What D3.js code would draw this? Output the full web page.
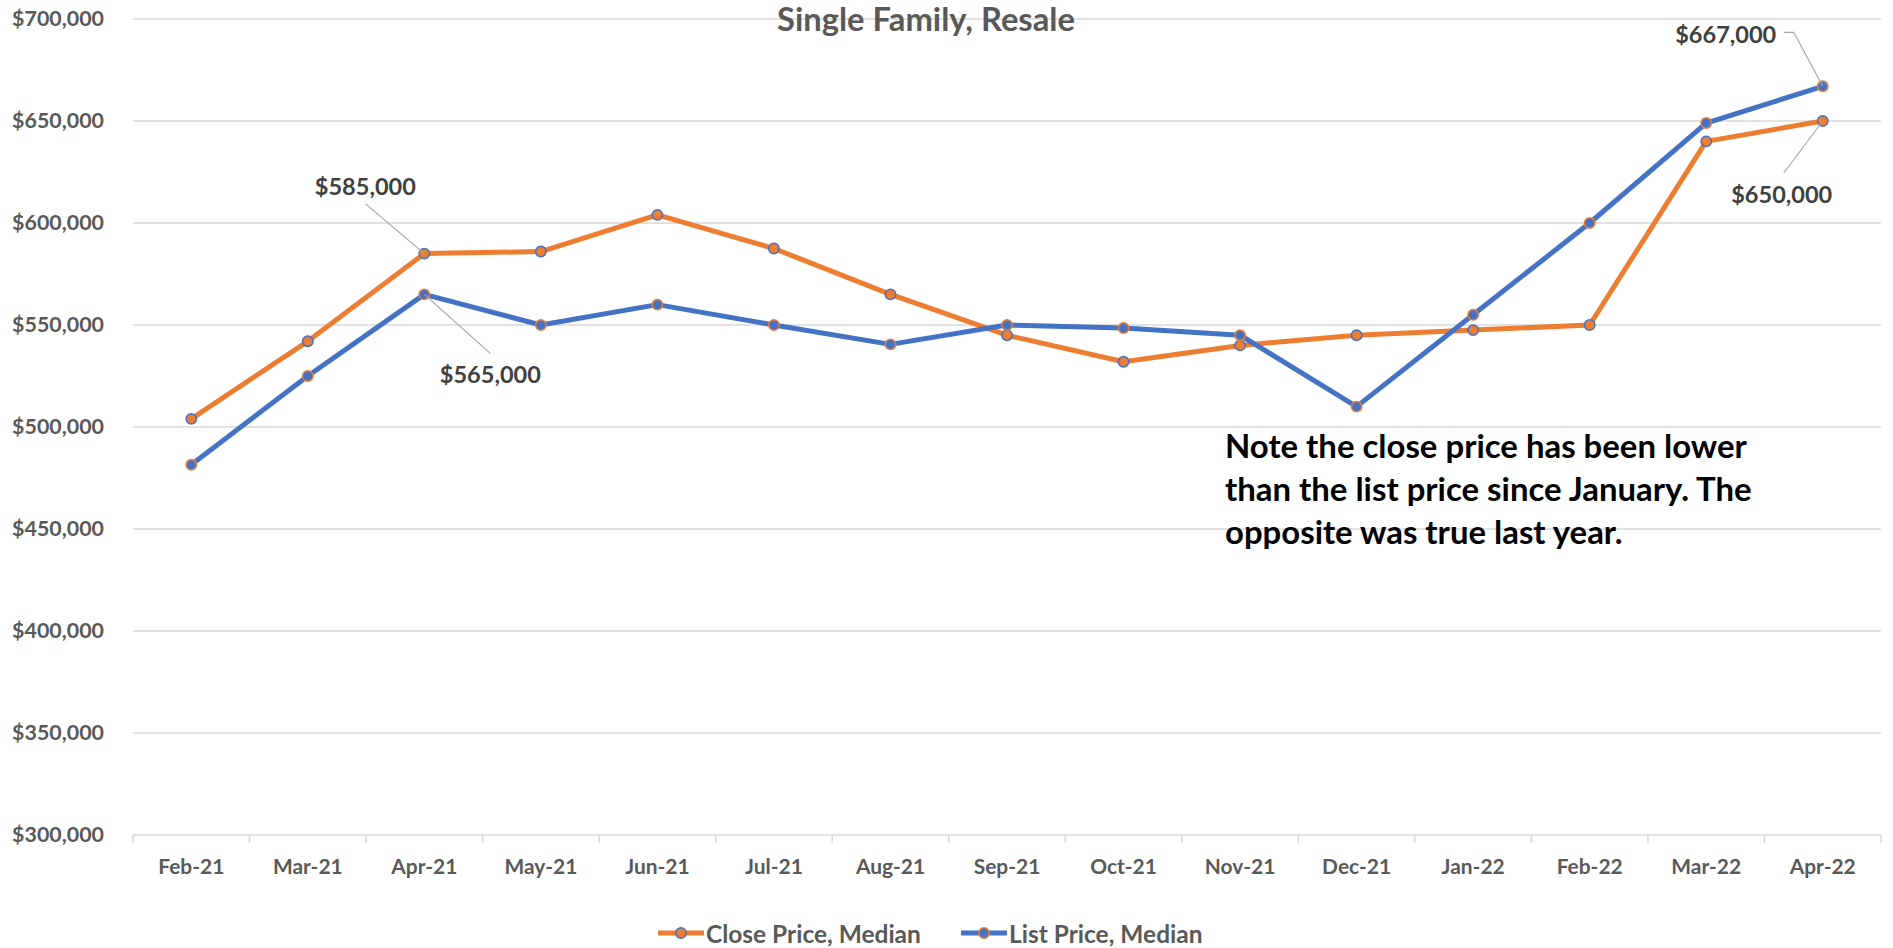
<!DOCTYPE html>
<html>
<head>
<meta charset="utf-8">
<script src="https://cdn.jsdelivr.net/npm/d3@7/dist/d3.min.js"></script>
<style>
  html, body { margin: 0; padding: 0; background: #fff; }
  svg { display: block; }
  text { font-family: Lato, "Open Sans", sans-serif; font-weight: bold; }
</style>
</head>
<body>
<svg id="chart" width="1893" height="948"></svg>
<script>
const months = ["Feb-21","Mar-21","Apr-21","May-21","Jun-21","Jul-21","Aug-21","Sep-21","Oct-21","Nov-21","Dec-21","Jan-22","Feb-22","Mar-22","Apr-22"];
const closePrice = [504000, 542000, 585000, 586000, 604000, 587500, 565000, 545000, 532000, 540000, 545000, 547500, 550000, 640000, 650000];
const listPrice  = [481500, 525000, 565000, 550000, 560000, 550000, 540500, 550000, 548500, 545000, 510000, 555000, 600000, 649000, 667000];
const yTicks = [300000, 350000, 400000, 450000, 500000, 550000, 600000, 650000, 700000];
const seriesNames = ["Close Price, Median", "List Price, Median"];
const titleText = "Single Family, Resale";
const noteLines = ["Note the close price has been lower", "than the list price since January. The", "opposite was true last year."];

const ORANGE = "#ED7D31", BLUE = "#4472C4", GRID = "#D9D9D9", TXT = "#595959";

const svg = d3.select("#chart");
const pLeft = 133, pRight = 1881, pTop = 19, pBottom = 835;
const x = d3.scaleBand().domain(months).range([pLeft, pRight]);
const y = d3.scaleLinear().domain([300000, 700000]).range([pBottom, pTop]);
const cx = m => x(m) + x.bandwidth() / 2;
const fmt = d3.format("$,");

function fitSize(sample, target, base) {
  const t = svg.append("text").attr("font-size", base).text(sample);
  const w = t.node().getComputedTextLength();
  t.remove();
  return base * target / w;
}

// gridlines
svg.append("g").selectAll("line").data(yTicks.filter(d => d > 300000)).join("line")
  .attr("x1", pLeft).attr("x2", pRight)
  .attr("y1", d => y(d)).attr("y2", d => y(d))
  .attr("stroke", GRID).attr("stroke-width", 1.5);

// x axis
const xAxis = d3.axisBottom(x).tickSize(0).tickPadding(0);
const gx = svg.append("g").attr("transform", `translate(0,${pBottom})`).call(xAxis);
gx.select(".domain").remove();
gx.append("line").attr("x1", pLeft).attr("x2", pRight).attr("y1", 0).attr("y2", 0)
  .attr("stroke", GRID).attr("stroke-width", 1.5);
const bounds = months.map(m => x(m)).concat([pRight]);
gx.selectAll(".bt").data(bounds).join("line").attr("class", "bt")
  .attr("x1", d => d).attr("x2", d => d).attr("y1", 0).attr("y2", 8)
  .attr("stroke", GRID).attr("stroke-width", 1.5);
const xFs = fitSize("Feb-21", 66, 20);
gx.selectAll(".tick text").attr("font-size", xFs).attr("fill", TXT)
  .attr("font-family", "Lato").attr("font-weight", "bold")
  .attr("dy", null).attr("y", 39);

// y axis labels
const yAxis = d3.axisLeft(y).tickValues(yTicks).tickFormat(fmt).tickSize(0).tickPadding(0);
const gy = svg.append("g").attr("transform", `translate(104,0)`).call(yAxis);
gy.select(".domain").remove();
const yFs = fitSize("$700,000", 92, 20);
gy.selectAll(".tick text").attr("font-size", yFs).attr("fill", TXT)
  .attr("font-family", "Lato").attr("font-weight", "bold");

// title
const tFs = fitSize(titleText, 298, 28);
svg.append("text").attr("x", 926).attr("y", 31).attr("text-anchor", "middle")
  .attr("font-size", tFs).attr("fill", TXT).text(titleText);

// lines
const line = d3.line().x(d => cx(d.m)).y(d => y(d.v));
const series = [
  { name: seriesNames[0], values: closePrice, color: ORANGE, edge: BLUE },
  { name: seriesNames[1], values: listPrice, color: BLUE, edge: ORANGE }
];
series.forEach(s => {
  const pts = months.map((m, i) => ({ m, v: s.values[i] }));
  const g = svg.append("g");
  g.append("path").datum(pts).attr("d", line).attr("fill", "none")
    .attr("stroke", s.color).attr("stroke-width", 5).attr("stroke-linejoin", "round");
  g.selectAll("circle").data(pts).join("circle")
    .attr("cx", d => cx(d.m)).attr("cy", d => y(d.v)).attr("r", 5.2)
    .attr("fill", s.color).attr("stroke", s.edge).attr("stroke-width", 1.5);
});

// data labels with leader lines
const lblFs = fitSize("$585,000", 101, 22);
const labels = [
  { m: "Apr-21", v: closePrice[2], dx: -59, dy: -68, lead: [[-59, -50]] },
  { m: "Apr-21", v: listPrice[2],  dx: 66,  dy: 80,  lead: [[66, 59]] },
  { m: "Apr-22", v: listPrice[14], dx: -97, dy: -52, lead: [[-29, -54], [-39, -54]] },
  { m: "Apr-22", v: closePrice[14], dx: -41, dy: 73, lead: [[-39, 52]] }
];
labels.forEach(l => {
  const px = cx(l.m), py = y(l.v);
  const pts = [[px, py]].concat(l.lead.map(p => [px + p[0], py + p[1]]));
  svg.append("path").attr("d", d3.line()(pts)).attr("fill", "none")
    .attr("stroke", "#A6A6A6").attr("stroke-width", 1.2);
  svg.append("text").attr("x", px + l.dx).attr("y", py + l.dy)
    .attr("text-anchor", "middle").attr("dominant-baseline", "central")
    .attr("font-size", lblFs).attr("fill", "#404040").text(fmt(l.v));
});

// note
const nFs = fitSize(noteLines[0], 522, 30);
const note = svg.append("text").attr("x", 1225).attr("y", 458)
  .attr("font-size", nFs).attr("fill", "#000");
noteLines.forEach((t, i) => note.append("tspan").attr("x", 1225).attr("dy", i === 0 ? 0 : 43).text(t));

// legend
const legFs = fitSize(seriesNames[0], 215, 20);
const legX = [658, 961];
series.forEach((s, i) => {
  const g = svg.append("g").attr("transform", `translate(${legX[i]},933)`);
  g.append("line").attr("x1", 0).attr("x2", 46).attr("stroke", s.color).attr("stroke-width", 5);
  g.append("circle").attr("cx", 23).attr("r", 5.2).attr("fill", s.color)
    .attr("stroke", s.edge).attr("stroke-width", 1.5);
  g.append("text").attr("x", 48).attr("dominant-baseline", "central")
    .attr("font-size", legFs).attr("fill", TXT).text(s.name);
});
</script>
</body>
</html>
